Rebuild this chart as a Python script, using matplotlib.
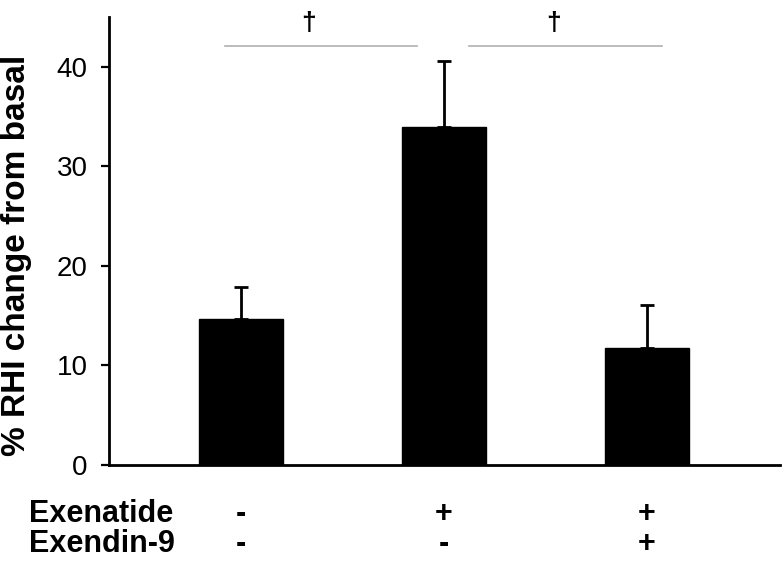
import matplotlib
matplotlib.use("Agg")
import matplotlib.pyplot as plt
import matplotlib.transforms as mtransforms

plt.rcParams['font.family'] = ['Liberation Sans', 'DejaVu Sans']

groups = ["G1", "G2", "G3"]
means = [14.7, 33.9, 11.7]
errors = [3.2, 6.7, 4.4]
exenatide = ["-", "+", "+"]
exendin9 = ["-", "-", "+"]
row_labels = ["Exenatide", "Exendin-9"]
yticks = [0, 10, 20, 30, 40]
ylabel = "% RHI change from basal"
# significance comparisons (pairs of bar indices)
sig_pairs = [(0, 1), (1, 2)]
sig_symbol = "\u2020"

fig = plt.figure(figsize=(7.84, 5.65), dpi=100)
ax = fig.add_axes([108.5/784, 1-465/565, (780.5-108.5)/784, (465-16.7)/565])

x = list(range(len(groups)))
ax.bar(x, means, width=0.413, color="black", edgecolor="black", zorder=2)
ax.errorbar(x, means, yerr=[[0]*len(errors), errors], fmt="none",
            ecolor="black", elinewidth=2.0, capsize=4.7, capthick=2.0, zorder=3)

ax.set_xlim(-0.653, 2.658)
ax.set_ylim(0, 45)
ax.set_yticks(yticks)
ax.set_yticklabels([str(t) for t in yticks], fontsize=20)
ax.tick_params(axis="y", direction="out", length=6, width=1.6, pad=9)
ax.set_xticks([])
for s in ["top", "right"]:
    ax.spines[s].set_visible(False)
for s in ["left", "bottom"]:
    ax.spines[s].set_linewidth(2.0)

# significance lines
sig_y = 42.1
for (a, b) in sig_pairs:
    if a == 0:
        x0, x1 = a - 0.079, b - 0.133
    else:
        x0, x1 = a + 0.123, b + 0.072
    ax.plot([x0, x1], [sig_y, sig_y], color="#b0b0b0", lw=1.2, clip_on=False)
    ax.text((x0 + x1) / 2 - 0.06, 44.4, sig_symbol, ha="center", va="center",
            fontsize=19, fontweight="bold", clip_on=False)

# bottom condition table
trans = mtransforms.blended_transform_factory(ax.transData, fig.transFigure)
row_y = [1 - 513.5/565, 1 - 543.5/565]
for ry, lab, vals in zip(row_y, row_labels, [exenatide, exendin9]):
    fig.text(29/784, ry, lab, ha="left", va="center", fontsize=22, fontweight="bold")
    for xi, v in zip(x, vals):
        ax.text(xi, ry, v, transform=trans, ha="center", va="center",
                fontsize=22, fontweight="bold")

fig.text(17/784, 1 - 255/565, ylabel, rotation=90, ha="center", va="center",
         fontsize=24, fontweight="bold")

fig.savefig("out.png", dpi=100)
